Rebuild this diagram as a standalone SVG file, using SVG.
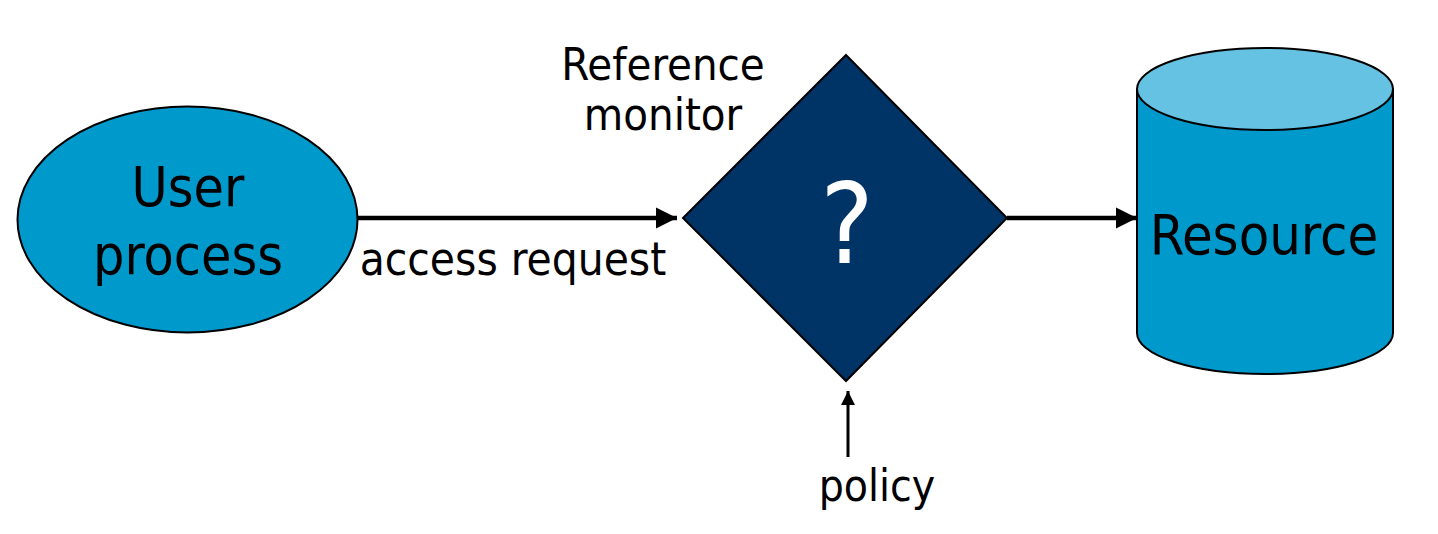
<svg xmlns="http://www.w3.org/2000/svg" width="1438" height="534" viewBox="0 0 1438 534">
<style>
text{font-family:"DejaVu Sans Condensed","DejaVu Sans",sans-serif;fill:#000}
.shape{stroke:#000;stroke-width:2}
.conn{stroke:#000;fill:none}
</style>
<defs>
<marker id="ah" viewBox="0 0 10 10" refX="10" refY="5" markerWidth="21" markerHeight="22" markerUnits="userSpaceOnUse" orient="auto"><path d="M0,0 L10,5 L0,10 z" fill="#000"/></marker>
<marker id="ahs" viewBox="0 0 10 10" refX="10" refY="5" markerWidth="14" markerHeight="14" markerUnits="userSpaceOnUse" orient="auto"><path d="M0,0 L10,5 L0,10 z" fill="#000"/></marker>
</defs>
<rect width="1438" height="534" fill="#fff"/>
<g id="user">
<ellipse class="shape" cx="187.5" cy="219.5" rx="170" ry="113" fill="#0099CC"/>
<text x="188" y="206" font-size="55" text-anchor="middle">User</text>
<text x="188" y="274" font-size="55" text-anchor="middle">process</text>
</g>
<g id="monitor">
<polygon class="shape" points="846,55 1007,218 846,381 683,218" fill="#003366"/>
<text x="847" y="263" font-size="112" text-anchor="middle" style="fill:#fff">?</text>
<text x="663" y="80" font-size="45" text-anchor="middle">Reference</text>
<text x="663" y="130" font-size="45" text-anchor="middle">monitor</text>
</g>
<g id="resource">
<path class="shape" d="M1137,89 L1137,333 A128,41 0 0 0 1393,333 L1393,89" fill="#0099CC"/>
<ellipse class="shape" cx="1265" cy="89" rx="128" ry="41" fill="#66C2E2"/>
<text x="1264" y="254" font-size="55.5" text-anchor="middle">Resource</text>
</g>
<g id="connectors">
<line class="conn" x1="358" y1="218" x2="677" y2="218" stroke-width="4.5" marker-end="url(#ah)"/>
<line class="conn" x1="1007" y1="218" x2="1137" y2="218" stroke-width="4.5" marker-end="url(#ah)"/>
<line class="conn" x1="848" y1="457" x2="848" y2="391" stroke-width="3" marker-end="url(#ahs)"/>
</g>
<g id="labels">
<text x="513" y="275" font-size="45.5" text-anchor="middle">access request</text>
<text x="877" y="501" font-size="44" text-anchor="middle">policy</text>
</g>
</svg>
